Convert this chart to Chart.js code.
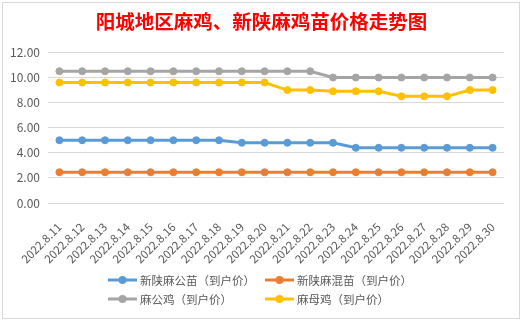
<!DOCTYPE html>
<html>
<head>
<meta charset="utf-8">
<script src="https://cdn.jsdelivr.net/npm/chart.js@4/dist/chart.umd.min.js"></script>
<style>
  html, body { margin: 0; padding: 0; background: #fff; }
  #wrap { position: relative; width: 523px; height: 321px; }
  #frame { position: absolute; left: 2px; top: 2px; width: 516px; height: 315px; border: 1px solid #d9d9d9; pointer-events: none; }
</style>
</head>
<body>
<div id="wrap">
  <canvas id="chart" width="523" height="321"></canvas>
  <div id="frame"></div>
</div>
<script>
const dates = ['2022.8.11', '2022.8.12', '2022.8.13', '2022.8.14', '2022.8.15',
  '2022.8.16', '2022.8.17', '2022.8.18', '2022.8.19', '2022.8.20',
  '2022.8.21', '2022.8.22', '2022.8.23', '2022.8.24', '2022.8.25',
  '2022.8.26', '2022.8.27', '2022.8.28', '2022.8.29', '2022.8.30'];

// 新陕麻公苗（到户价）
const gongMiao = [5.0, 5.0, 5.0, 5.0, 5.0, 5.0, 5.0, 5.0, 4.8, 4.8,
  4.8, 4.8, 4.8, 4.4, 4.4, 4.4, 4.4, 4.4, 4.4, 4.4];
// 新陕麻混苗（到户价）
const hunMiao = [2.45, 2.45, 2.45, 2.45, 2.45, 2.45, 2.45, 2.45, 2.45, 2.45,
  2.45, 2.45, 2.45, 2.45, 2.45, 2.45, 2.45, 2.45, 2.45, 2.45];
// 麻公鸡（到户价）
const gongJi = [10.5, 10.5, 10.5, 10.5, 10.5, 10.5, 10.5, 10.5, 10.5, 10.5,
  10.5, 10.5, 10.0, 10.0, 10.0, 10.0, 10.0, 10.0, 10.0, 10.0];
// 麻母鸡（到户价）
const muJi = [9.6, 9.6, 9.6, 9.6, 9.6, 9.6, 9.6, 9.6, 9.6, 9.6,
  9.0, 9.0, 8.9, 8.9, 8.9, 8.5, 8.5, 8.5, 9.0, 9.0];

const seriesNames = ['新陕麻公苗（到户价）', '新陕麻混苗（到户价）', '麻公鸡（到户价）', '麻母鸡（到户价）'];
const yTicks = [0, 2, 4, 6, 8, 10, 12];

const colors = ['#5B9BD5', '#ED7D31', '#A5A5A5', '#FFC000'];
const textColor = '#595959';

Chart.defaults.font.family = '"Noto Sans CJK SC", "Noto Sans", sans-serif';
Chart.defaults.color = textColor;

function makeSeries(label, data, color) {
  return {
    label: label,
    data: data,
    borderColor: color,
    backgroundColor: color,
    borderWidth: 3,
    pointRadius: 3.5,
    pointBorderWidth: 1,
    pointBackgroundColor: color,
    pointBorderColor: color,
    tension: 0,
    yAxisID: 'y'
  };
}

// 两行两列的图例，和原图一样按列对齐
const legendGrid = {
  id: 'legendGrid',
  afterDraw(chart) {
    const ctx = chart.ctx;
    const cols = [108, 265];
    const rows = [280, 299];
    ctx.save();
    ctx.font = '11.5px "Noto Sans CJK SC"';
    ctx.textBaseline = 'middle';
    chart.data.datasets.forEach((ds, i) => {
      const x = cols[i % 2];
      const y = rows[Math.floor(i / 2)];
      ctx.strokeStyle = ds.borderColor;
      ctx.lineWidth = 3;
      ctx.beginPath();
      ctx.moveTo(x, y);
      ctx.lineTo(x + 29, y);
      ctx.stroke();
      ctx.fillStyle = ds.borderColor;
      ctx.beginPath();
      ctx.arc(x + 14.5, y, 4, 0, Math.PI * 2);
      ctx.fill();
      ctx.fillStyle = textColor;
      ctx.fillText(ds.label, x + 32, y + 0.5);
    });
    ctx.restore();
  }
};

new Chart(document.getElementById('chart').getContext('2d'), {
  type: 'line',
  data: {
    labels: dates,
    datasets: [
      makeSeries(seriesNames[0], gongMiao, colors[0]),
      makeSeries(seriesNames[1], hunMiao, colors[1]),
      makeSeries(seriesNames[2], gongJi, colors[2]),
      makeSeries(seriesNames[3], muJi, colors[3])
    ]
  },
  options: {
    responsive: false,
    animation: false,
    devicePixelRatio: 1,
    layout: { padding: 0 },
    plugins: {
      legend: { display: false },
      tooltip: { enabled: false },
      title: {
        display: true,
        text: '阳城地区麻鸡、新陕麻鸡苗价格走势图',
        color: '#FF0000',
        font: { size: 19.5, weight: 'bold' },
        padding: { top: 10, bottom: 19 }
      }
    },
    scales: {
      x: {
        offset: true,
        grid: { display: false },
        border: { display: false },
        ticks: {
          autoSkip: false,
          minRotation: 45,
          maxRotation: 45,
          padding: 9,
          color: textColor,
          font: { size: 11.5 }
        },
        afterFit(scale) { scale.height = 118; }
      },
      y: {
        min: yTicks[0],
        max: yTicks[yTicks.length - 1],
        grid: { color: '#D9D9D9', drawTicks: false },
        border: { display: false },
        ticks: {
          stepSize: 2,
          padding: 8,
          color: textColor,
          font: { size: 12 },
          callback: v => v.toFixed(2)
        },
        afterFit(scale) { scale.width = 48; }
      },
      // 右侧留白，让标题居中于整张图
      yRight: {
        position: 'right',
        grid: { display: false, drawTicks: false },
        border: { display: false },
        ticks: { display: false },
        afterFit(scale) { scale.width = 19; }
      }
    }
  },
  plugins: [legendGrid]
});
</script>
</body>
</html>
